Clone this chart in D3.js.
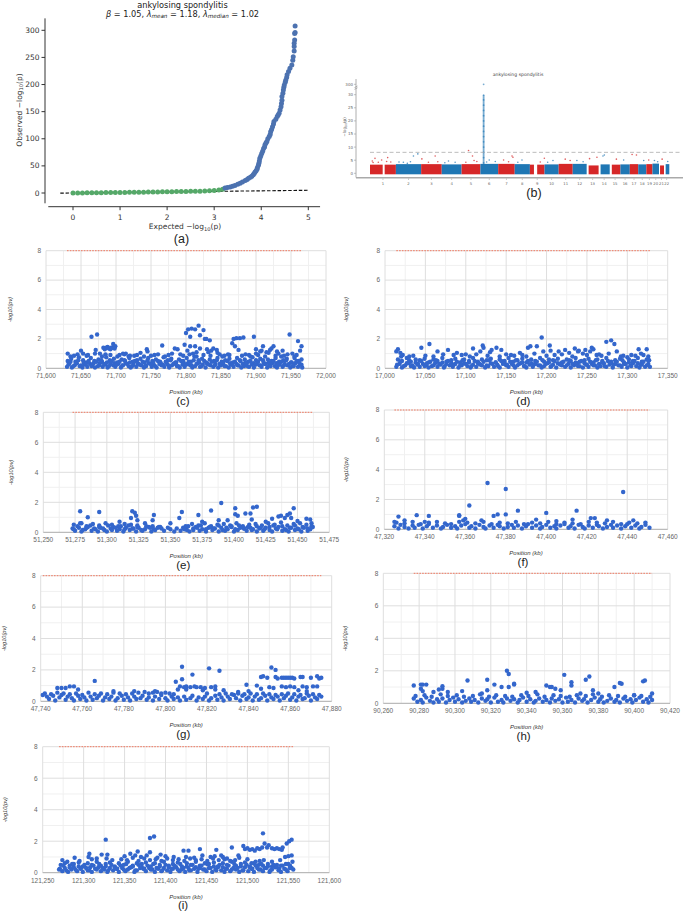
<!DOCTYPE html>
<html><head><meta charset="utf-8">
<script src="https://cdn.jsdelivr.net/npm/d3@7"></script>
<style>body{margin:0;background:#fff}svg{display:block}</style>
</head><body>
<svg id="fig" width="685" height="913"></svg>
<script>
// ================= DATA =================
// (a) QQ plot
const qqXTicks=[0,1,2,3,4,5];
const qqYTicks=[0,50,100,150,200,250,300];
const qqLineExtent=[-0.27,5];
const qqGreen=[[0,0],[0.1,0.1],[0.2,0.2],[0.3,0.3],[0.4,0.4],[0.5,0.5],[0.6,0.6],[0.7,0.7],[0.8,0.8],[0.9,0.9],[1,1],[1.1,1.1],[1.2,1.3],[1.3,1.4],[1.4,1.5],[1.5,1.6],[1.6,1.7],[1.7,1.9],[1.8,2],[1.9,2.1],[2,2.3],[2.1,2.4],[2.2,2.6],[2.3,2.7],[2.4,2.9],[2.5,3],[2.6,3.2],[2.7,3.4],[2.8,3.7],[2.9,4],[3,4.5],[3.1,5.5],[3.18,7]];
const qqBlue=[[3.23,9],[3.28,10],[3.34,11],[3.39,12.5],[3.44,14],[3.5,16],[3.55,18],[3.6,20.5],[3.66,23],[3.7,25],[3.73,27],[3.77,29],[3.8,31],[3.83,33.5],[3.85,36],[3.87,38.5],[3.89,41],[3.91,44],[3.92,47],[3.94,51],[3.95,55],[3.96,59],[3.97,64],[3.99,68],[4.01,73],[4.03,77],[4.05,82],[4.07,85],[4.08,89],[4.1,92],[4.12,95],[4.14,100],[4.17,104],[4.19,108],[4.2,113],[4.22,117],[4.24,122],[4.26,127],[4.27,132],[4.31,136],[4.34,141],[4.36,144],[4.38,147],[4.4,153],[4.42,159],[4.43,165],[4.44,171],[4.44,178],[4.46,184],[4.47,190],[4.48,195],[4.49,199],[4.51,204],[4.52,208],[4.54,213],[4.55,218],[4.58,224],[4.61,230],[4.65,236],[4.67,245],[4.68,251],[4.7,262],[4.7,270],[4.7,276],[4.71,282],[4.71,294],[4.72,296],[4.72,308]];

// (b) Manhattan plot
const chrNames=["1","2","3","4","5","6","7","8","9","10","11","12","13","14","15","16","17","18","19","20","21","22"];
const chrLenMb=[249,243,198,191,181,171,159,146,141,136,135,134,115,107,103,90,81,78,59,63,48,51];
const chrGapsMb=[[1,122,141],[9,39,70],[13,0,19],[14,0,19],[15,0,20],[21,0,10],[22,0,16]];
const chrBandTop=[3.3,3.5,3.5,3.4,3.5,3.6,3.6,3.5,3.3,3.4,3.6,3.6,3.0,3.4,3.3,3.4,3.5,3.4,3.5,3.7,3.0,3.5];
const manOutliers=[[1,22,4.7],[1,48,5.7],[1,80,4.2],[1,112,5.1],[1,170,6.0],[1,160,4.5],[1,30,4.1],[1,200,4.3],[2,72,4.2],[2,169,6.6],[2,211,7.4],[2,110,3.8],[2,30,4.3],[2,140,4.4],[3,7,5.5],[3,135,6.6],[3,70,4.2],[3,160,4.4],[4,65,4.7],[4,129,4.2],[4,30,4.0],[5,67,8.7],[5,105,6.6],[5,41,4.2],[5,147,4.5],[5,120,4.9],[6,85,5.1],[6,143,4.5],[6,60,4.3],[7,52,5.1],[7,133,6.6],[7,142,6.1],[7,100,4.4],[8,70,5.1],[8,30,4.2],[9,139,5.75],[9,100,4.3],[10,81,4.9],[10,30,4.2],[11,63,5.4],[11,110,4.9],[12,40,4.9],[12,100,4.4],[13,28,5.6],[13,99,6.1],[14,42,6.6],[14,55,7.0],[15,64,5.4],[16,31,5.1],[17,22,7.2],[17,64,7.0],[18,53,4.9],[19,23,5.1],[20,19,4.9],[20,50,4.4],[21,30,5.4],[22,36,4.5]];
const hlaChr=6, hlaPosMb=31;
const hlaVals=[4,6,8,10,12,14,16,18,20,22,24,26,28,29.8,300];
const manYTicks=[0,5,10,15,20,25,30,300];
const manThreshold=8;

// (c)-(i) regional plots: [offset kb from start, -log10(pv)]
const gYTicks=[0,2,4,6,8];
const gThreshold=8;

const cStartKb=71600;
const cTicks=[71600,71650,71700,71750,71800,71850,71900,71950,72000];
const cPts=[[30,.1],[33,.3],[37,.05],[41,.2],[44,.35],[48,.15],[52,.05],[55,.25],[59,.1],[63,.3],[66,.2],[70,.05],[74,.15],[77,.35],[81,.1],[85,.25],[88,.05],[92,.3],[96,.2],[99,.1],[103,.3],[107,.05],[110,.2],[114,.35],[118,.15],[121,.05],[125,.25],[129,.1],[132,.3],[136,.2],[140,.05],[143,.15],[147,.35],[151,.1],[154,.25],[158,.05],[162,.3],[165,.2],[169,.1],[173,.3],[176,.05],[180,.2],[184,.35],[187,.15],[191,.05],[195,.25],[198,.1],[202,.3],[206,.2],[209,.05],[213,.15],[217,.35],[220,.1],[224,.25],[228,.05],[231,.3],[235,.2],[239,.1],[242,.3],[246,.05],[250,.2],[253,.35],[257,.15],[261,.05],[264,.25],[268,.1],[272,.3],[275,.2],[279,.05],[283,.15],[286,.35],[290,.1],[294,.25],[297,.05],[301,.3],[305,.2],[308,.1],[312,.3],[316,.05],[319,.2],[323,.35],[327,.15],[330,.05],[334,.25],[338,.1],[341,.3],[345,.2],[349,.05],[352,.15],[356,.35],[360,.1],[363,.25],[366,.05],
[31,.5],[36,.65],[42,.45],[47,.75],[53,.55],[58,.4],[64,.7],[69,.5],[75,.6],[80,.45],[86,.75],[91,.55],[97,.65],[102,.4],[108,.6],[113,.5],[119,.7],[124,.45],[130,.55],[135,.65],[141,.4],[146,.7],[152,.5],[157,.6],[163,.45],[168,.75],[174,.55],[179,.65],[185,.4],[190,.6],[196,.5],[201,.7],[207,.45],[212,.8],[218,.55],[223,.65],[229,.4],[234,.6],[240,.5],[245,.7],[251,.45],[256,.55],[262,.65],[267,.4],[273,.7],[278,.5],[284,.6],[289,.45],[295,.75],[300,.55],[306,.65],[311,.4],[317,.6],[322,.5],[328,.7],[333,.45],[339,.55],[344,.65],[350,.4],[355,.7],[361,.5],[365,.6],
[32,.25],[35,.45],[39,.15],[43,.35],[46,.55],[50,.2],[54,.4],[57,.3],[61,.5],[65,.15],[68,.35],[72,.45],[76,.2],[79,.55],[83,.3],[87,.4],[90,.15],[94,.5],[98,.35],[101,.25],[105,.45],[109,.2],[112,.55],[116,.3],[120,.4],[123,.15],[127,.5],[131,.35],[134,.25],[138,.45],[142,.2],[145,.55],[149,.3],[153,.4],[156,.15],[160,.5],[164,.35],[167,.25],[171,.45],[175,.2],[178,.55],[182,.3],[186,.4],[189,.15],[193,.5],[197,.35],[200,.25],[204,.45],[208,.2],[211,.55],[215,.3],[219,.4],[222,.15],[226,.5],[230,.35],[233,.25],[237,.45],[241,.2],[244,.55],[248,.3],[252,.4],[255,.15],[259,.5],[263,.35],[266,.25],[270,.45],[274,.2],[277,.55],[281,.3],[285,.4],[288,.15],[292,.5],[296,.35],[299,.25],[303,.45],[307,.2],[310,.55],[314,.3],[318,.4],[321,.15],[325,.5],[329,.35],[332,.25],[336,.45],[340,.2],[343,.55],[347,.3],[351,.4],[354,.15],[358,.5],[362,.35],[365,.25],
[35,.8],[45,.95],[58,.85],[70,1.0],[80,.8],[92,.9],[102,.8],[112,.95],[118,.8],[126,.85],[135,1.05],[140,.8],[155,.9],[170,.8],[180,1.0],[196,.85],[205,.95],[215,.8],[235,.85],[245,1.05],[252,.8],[260,.95],[280,.85],[292,.8],[303,.9],[313,.8],[318,1.05],[328,.85],[336,.8],[345,.95],[355,.8],[84,1.3],[88,1.45],[92,1.3],[95,1.4],[198,1.6],[230,1.3],[236,1.2],[300,1.3],[308,1.2],[330,1.15],[338,1.2],
[31,1.0],[50,1.2],[53,1.0],[65,2.15],[73,2.3],[71,1.25],[82,1.4],[86,1.4],[90,1.35],[93,1.4],[96,1.65],[99,1.5],[98,1.35],[85,.95],[105,.9],[114,1.0],[120,.85],[130,.9],[144,1.3],[145,1.15],[150,.85],[166,1.55],[175,.9],[184,1.35],[188,1.3],[192,.95],[200,2.4],[203,2.65],[206,2.15],[208,2.7],[213,2.65],[218,2.9],[220,2.25],[225,2.6],[227,2.0],[229,2.0],[234,1.9],[213,1.5],[206,1.5],[220,1.35],[239,1.35],[244,1.25],[210,1.0],[225,.9],[202,1.2],[215,1.1],[232,1.1],[248,.95],[255,.85],[262,.9],[268,2.0],[272,2.05],[277,2.05],[282,2.1],[270,1.5],[275,1.25],[266,1.7],[285,.95],[297,2.15],[306,1.15],[310,1.5],[315,1.1],[320,1.25],[325,1.5],[322,1.35],[332,1.0],[340,.85],[348,2.3],[352,1.0],[358,.9],[360,1.85],[365,1.5],[363,1.2],[290,.9],[300,1.0],[160,.95],[110,1.0],[60,.9],[40,.85],[77,1.0]];

const dStartKb=17000;
const dTicks=[17000,17050,17100,17150,17200,17250,17300,17350];
const dPts=[[14,.1],[18,.3],[21,.05],[25,.2],[29,.35],[32,.15],[36,.05],[40,.25],[43,.1],[47,.3],[51,.2],[54,.05],[58,.15],[62,.35],[65,.1],[69,.25],[73,.05],[76,.3],[80,.2],[84,.1],[87,.3],[91,.05],[95,.2],[98,.35],[102,.15],[106,.05],[109,.25],[113,.1],[117,.3],[120,.2],[124,.05],[128,.15],[131,.35],[135,.1],[139,.25],[142,.05],[146,.3],[150,.2],[153,.1],[157,.3],[161,.05],[164,.2],[168,.35],[172,.15],[175,.05],[179,.25],[183,.1],[186,.3],[190,.2],[194,.05],[197,.15],[201,.35],[205,.1],[208,.25],[212,.05],[216,.3],[219,.2],[223,.1],[227,.3],[230,.05],[234,.2],[238,.35],[241,.15],[245,.05],[249,.25],[252,.1],[256,.3],[260,.2],[263,.05],[267,.15],[271,.35],[274,.1],[278,.25],[282,.05],[285,.3],[289,.2],[293,.1],[296,.3],[300,.05],[304,.2],[307,.35],[311,.15],[315,.05],[318,.25],[322,.1],[326,.3],[328,.1],
[16,.6],[21,.5],[27,.7],[32,.45],[38,.6],[43,.55],[49,.65],[54,.4],[60,.6],[65,.5],[71,.7],[76,.45],[82,.55],[87,.65],[93,.4],[98,.6],[104,.5],[109,.7],[115,.45],[120,.6],[126,.55],[131,.65],[137,.4],[142,.6],[148,.5],[153,.7],[159,.45],[164,.55],[170,.65],[175,.4],[181,.6],[186,.5],[192,.7],[197,.45],[203,.6],[208,.55],[214,.65],[219,.4],[225,.6],[230,.5],[236,.7],[241,.45],[247,.55],[252,.65],[258,.4],[263,.6],[269,.5],[274,.7],[280,.45],[285,.55],[291,.65],[296,.4],[302,.6],[307,.5],[313,.7],[318,.45],[324,.6],
[15,.25],[19,.45],[23,.15],[27,.35],[30,.55],[34,.2],[38,.4],[41,.3],[45,.5],[49,.15],[52,.35],[56,.45],[60,.2],[63,.55],[67,.3],[71,.4],[74,.15],[78,.5],[82,.35],[85,.25],[89,.45],[93,.2],[96,.55],[100,.3],[104,.4],[107,.15],[111,.5],[115,.35],[118,.25],[122,.45],[126,.2],[129,.55],[133,.3],[137,.4],[140,.15],[144,.5],[148,.35],[151,.25],[155,.45],[159,.2],[162,.55],[166,.3],[170,.4],[173,.15],[177,.5],[181,.35],[184,.25],[188,.45],[192,.2],[195,.55],[199,.3],[203,.4],[206,.15],[210,.5],[214,.35],[217,.25],[221,.45],[225,.2],[228,.55],[232,.3],[236,.4],[239,.15],[243,.5],[247,.35],[250,.25],[254,.45],[258,.2],[261,.55],[265,.3],[269,.4],[272,.15],[276,.5],[280,.35],[283,.25],[287,.45],[291,.2],[294,.55],[298,.3],[302,.4],[305,.15],[309,.5],[313,.35],[316,.25],[320,.45],[324,.2],[327,.55],
[20,.8],[35,.85],[60,.8],[85,.9],[105,.8],[113,.95],[127,.85],[142,.8],[156,.9],[175,.8],[185,1.0],[200,.85],[219,.95],[232,.8],[250,.9],[268,.85],[277,1.0],[292,.8],[300,.75],[310,.85],[317,1.0],[326,.8],[130,1.1],[205,1.2],[240,1.2],[258,1.3],
[14,1.15],[16,1.3],[19,1.05],[22,.9],[30,.8],[45,1.4],[55,1.65],[65,1.15],[50,.85],[78,1.25],[89,1.05],[95,.9],[109,1.35],[121,1.55],[122,1.4],[118,1.15],[132,1.25],[138,1.4],[144,1.25],[150,.95],[160,.85],[167,1.05],[180,1.5],[177,1.4],[188,1.5],[194,2.1],[196,1.15],[204,1.55],[210,.9],[215,1.15],[223,1.25],[235,1.35],[239,1.15],[248,1.25],[256,1.4],[254,1.15],[245,1.0],[262,.9],[274,1.8],[280,1.9],[284,1.65],[287,1.15],[295,.85],[305,.9],[314,1.3],[324,1.3],[320,.9],[326,.55],[72,.95],[100,.95],[170,.9],[228,1.05],[265,.95]];

const eStartKb=51250;
const eTicks=[51250,51275,51300,51325,51350,51375,51400,51425,51450,51475];
const ePts=[[23,.25],[25,.1],[28,.3],[30,.05],[33,.2],[35,.35],[38,.1],[40,.25],[43,.05],[45,.3],[48,.15],[50,.05],[53,.25],[55,.35],[58,.1],[60,.2],[63,.05],[65,.3],[68,.15],[70,.25],[73,.05],[75,.3],[78,.1],[80,.2],[83,.35],[85,.05],[88,.15],[90,.3],[93,.25],[95,.1],[98,.3],[100,.2],[103,.05],[105,.25],[108,.1],[110,.3],[113,.15],[115,.05],[118,.25],[120,.35],[123,.1],[125,.2],[128,.05],[130,.3],[133,.15],[135,.25],[138,.05],[140,.3],[143,.1],[145,.2],[148,.35],[150,.05],[153,.15],[155,.3],[158,.25],[160,.1],[163,.3],[165,.2],[168,.05],[170,.25],[173,.1],[175,.3],[178,.15],[180,.05],[183,.25],[185,.35],[188,.1],[190,.2],[193,.05],[195,.3],[198,.15],[200,.25],[203,.05],[205,.3],[208,.1],[210,.2],[212,.35],
[24,.5],[29,.6],[34,.4],[39,.55],[44,.45],[49,.6],[54,.5],[59,.4],[64,.55],[69,.5],[74,.45],[80,.6],[86,.4],[92,.35],[112,.4],[117,.55],[122,.45],[127,.6],[132,.4],[137,.5],[142,.55],[147,.45],[152,.6],[157,.4],[162,.5],[167,.55],[172,.45],[177,.6],[182,.5],[187,.65],[192,.45],[197,.55],[202,.6],[207,.5],[211,.6],
[24,.2],[27,.4],[31,.15],[34,.3],[37,.45],[41,.2],[44,.35],[47,.25],[51,.45],[54,.15],[57,.3],[61,.4],[64,.2],[67,.45],[71,.25],[74,.35],[77,.15],[81,.4],[84,.3],[87,.2],[91,.35],[111,.2],[114,.4],[118,.15],[121,.3],[124,.45],[128,.2],[131,.35],[134,.25],[138,.45],[141,.15],[144,.3],[148,.4],[151,.2],[154,.45],[158,.25],[161,.35],[164,.15],[168,.4],[171,.3],[174,.2],[178,.35],[181,.45],[184,.2],[188,.4],[191,.15],[194,.3],[198,.45],[201,.2],[204,.35],[208,.25],[211,.4],
[29,1.4],[35,1.0],[44,1.35],[30,.6],[70,1.4],[72,1.3],[73,1.1],[69,.95],[74,.8],[87,1.15],[86,.8],[109,1.35],[107,.95],[122,1.15],[132,1.45],[140,1.95],[138,.8],[151,1.6],[151,1.2],[153,1.1],[159,1.25],[163,1.25],[165,1.65],[168,1.7],[164,.85],[185,1.05],[187,1.1],[192,1.15],[194,1.25],[197,1.6],[195,.95],[210,.85],[207,.9],[145,.8],[175,.7],[60,.7],[100,.6],[125,.7],[180,.9],[200,.75],[190,.95]];

const fStartKb=47320;
const fTicks=[47320,47340,47360,47380,47400,47420,47440,47460];
const fPts=[[5,.2],[7,.05],[8,.3],[10,.15],[12,.05],[14,.25],[15,.1],[17,.3],[19,.05],[21,.2],[22,.35],[24,.1],[26,.25],[28,.05],[29,.15],[31,.3],[33,.1],[35,.2],[36,.05],[38,.25],[40,.35],[42,.1],[43,.2],[45,.05],[47,.3],[49,.15],[50,.05],[52,.25],[54,.1],[56,.3],[57,.2],[59,.05],[61,.15],[63,.3],[64,.1],[66,.25],[68,.05],[70,.2],[71,.35],[73,.1],[75,.25],[77,.05],[78,.15],[80,.3],[82,.1],[84,.2],[85,.05],[87,.25],[89,.35],[91,.1],[92,.2],[94,.05],[96,.3],[98,.15],[99,.05],[101,.25],[103,.1],[105,.3],[106,.2],[108,.05],[110,.15],[112,.3],[113,.1],[115,.25],[117,.05],[119,.2],[120,.35],[122,.1],[124,.25],[126,.05],[127,.15],[129,.3],[131,.1],
[6,.45],[10,.4],[14,.5],[18,.35],[22,.45],[26,.5],[30,.4],[33,.35],[37,.5],[41,.45],[45,.4],[49,.5],[53,.35],[57,.45],[61,.4],[65,.5],[69,.35],[73,.45],[77,.4],[81,.5],[85,.35],[89,.45],[93,.4],[97,.35],[101,.5],[105,.45],[109,.4],[113,.5],[117,.35],[121,.45],[125,.4],[129,.45],
[5,.5],[7,.85],[10,.6],[16,.95],[22,.9],[37,.95],[37,.9],[42,1.6],[39,.6],[40,.7],[51,3.1],[54,.9],[56,1.0],[60,1.0],[60,2.7],[66,1.25],[75,.65],[80,1.1],[93,.65],[95,1.25],[102,.75],[104,.75],[110,.6],[118,2.5],[123,.6],[20,.5],[48,.6],[85,.55]];

const gStartKb=47740;
const gTicks=[47740,47760,47780,47800,47820,47840,47860,47880];
const gPts=[[1,.4],[3,.3],[4,.15],[6,.35],[7,.05],[9,.25],[10,.4],[12,.1],[13,.3],[15,.2],[16,.05],[18,.35],[19,.15],[21,.25],[22,.05],[24,.3],[25,.1],[27,.2],[28,.35],[30,.05],[31,.25],[33,.15],[34,.3],[36,.05],[37,.2],[39,.35],[40,.1],[42,.25],[43,.05],[45,.3],[46,.15],[48,.2],[49,.35],[51,.1],[52,.25],[54,.05],[55,.3],[57,.15],[58,.4],[60,.2],[61,.05],[63,.3],[64,.15],[66,.25],[67,.05],[69,.3],[70,.1],[72,.2],[73,.35],[75,.05],[76,.25],[78,.15],[79,.3],[81,.05],[82,.2],[84,.35],[85,.1],[87,.25],[88,.05],[90,.3],[91,.15],[93,.4],[94,.2],[96,.05],[97,.35],[99,.15],[100,.25],[102,.05],[103,.3],[105,.1],[106,.2],[108,.35],[109,.05],[111,.25],[112,.15],[114,.3],[115,.05],[117,.2],[118,.35],[120,.1],[121,.25],[123,.05],[124,.3],[126,.15],[127,.2],[129,.35],[130,.05],[132,.25],[133,.15],[135,.3],
[2,.5],[5,.45],[8,.55],[11,.5],[14,.45],[17,.5],[20,.4],[23,.55],[26,.45],[29,.5],[32,.45],[35,.55],[38,.5],[41,.45],[44,.5],[47,.55],[50,.6],[52,.5],[54,.55],[56,.6],[58,.5],[60,.55],[62,.5],[64,.45],[80,.5],[86,.45],[89,.5],[92,.45],[95,.5],[98,.45],[101,.5],[104,.45],[107,.5],[110,.45],[113,.4],[116,.45],[119,.5],[122,.45],[125,.4],[128,.5],[131,.45],[134,.4],
[8,.85],[10,.85],[12,.85],[14,.95],[16,.95],[18,.75],[26,1.3],[35,.65],[45,.65],[55,.65],[66,.75],[70,.75],[78,.7],[84,.75],[88,.7],[65,1.25],[68,2.2],[68,1.4],[67,.95],[69,.9],[70,.95],[72,.9],[73,1.7],[74,.95],[75,.9],[77,.9],[79,.85],[81,2.1],[82,.9],[84,.95],[86,1.95],[99,1.05],[104,1.0],[106,1.55],[107,1.6],[109,1.5],[111,2.15],[113,2.0],[113,1.55],[114,1.45],[116,1.5],[117,1.5],[118,1.5],[119,1.5],[120,1.5],[121,1.5],[122,1.45],[116,.95],[118,.9],[120,.95],[122,.9],[125,1.55],[126,1.55],[126,.95],[128,.9],[130,1.5],[133,1.6],[134,1.45],[135,1.5],[131,.95],[133,.95],[106,.8],[110,.9],[112,.85],[124,.7],[128,.65],[95,.6],[100,.65]];

const hStartKb=90260;
const hTicks=[90260,90280,90300,90320,90340,90360,90380,90400,90420];
const hPts=[[17,.3],[19,.1],[21,.2],[22,.05],[24,.35],[26,.15],[28,.05],[30,.25],[31,.1],[33,.3],[35,.05],[37,.2],[39,.35],[40,.1],[42,.25],[44,.05],[46,.15],[48,.3],[49,.1],[51,.2],[53,.05],[55,.3],[57,.15],[58,.25],[60,.05],[62,.35],[64,.1],[66,.2],[67,.05],[69,.3],[71,.15],[73,.25],[75,.05],[76,.2],[78,.35],[80,.1],[82,.25],[84,.05],[85,.15],[87,.3],[89,.1],[91,.2],[93,.05],[94,.3],[96,.15],[98,.25],[100,.05],[102,.35],[103,.1],[105,.2],[107,.05],[109,.3],[111,.15],[112,.25],[114,.05],[116,.2],[118,.35],[120,.1],[121,.25],[123,.05],[125,.15],[127,.3],[129,.1],[130,.2],[132,.05],[134,.3],[136,.15],[138,.25],[139,.05],[141,.2],[143,.35],[145,.1],[147,.25],[148,.05],[150,.2],
[18,.45],[23,.5],[27,.4],[32,.55],[36,.45],[41,.5],[45,.4],[50,.45],[54,.55],[59,.4],[63,.5],[68,.45],[72,.4],[77,.5],[81,.45],[86,.55],[90,.4],[95,.5],[99,.45],[104,.4],[108,.5],[113,.45],[117,.55],[122,.4],[126,.5],[131,.45],[135,.4],[140,.5],[144,.45],[149,.4],
[17,1.1],[21,.9],[21,1.15],[22,1.15],[24,1.15],[22,.75],[28,.7],[31,.85],[33,.9],[33,1.05],[36,.7],[44,.75],[47,1.4],[58,1.45],[58,.8],[62,1.15],[66,1.0],[69,2.0],[70,1.8],[70,1.0],[73,1.15],[73,1.2],[91,1.1],[93,1.0],[94,1.0],[96,.9],[99,.8],[101,1.75],[105,1.3],[105,1.1],[113,1.45],[115,1.65],[117,.8],[129,1.0],[132,1.25],[133,1.2],[145,1.35],[146,1.4],[140,.5],[150,.6],[55,.6],[80,.65],[110,.6],[120,.6],[85,.7]];

const iStartKb=121250;
const iTicks=[121250,121300,121350,121400,121450,121500,121550,121600];
const iPts=[[20,.2],[24,.1],[27,.3],[31,.05],[35,.2],[38,.35],[42,.1],[46,.25],[49,.05],[53,.3],[57,.15],[60,.05],[64,.25],[68,.35],[71,.1],[75,.2],[79,.05],[82,.3],[86,.15],[90,.25],[93,.05],[97,.3],[101,.1],[104,.2],[108,.35],[112,.05],[115,.15],[119,.3],[123,.25],[126,.1],[130,.3],[134,.2],[137,.05],[141,.25],[145,.1],[148,.3],[152,.15],[156,.05],[159,.25],[163,.35],[167,.1],[170,.2],[174,.05],[178,.3],[181,.15],[185,.25],[189,.05],[192,.3],[196,.2],[200,.1],[203,.3],[207,.05],[211,.2],[214,.35],[218,.15],[222,.05],[225,.25],[229,.1],[233,.3],[236,.2],[240,.05],[244,.15],[247,.35],[251,.1],[255,.25],[258,.05],[262,.3],[266,.2],[269,.1],[273,.3],[277,.05],[280,.2],[284,.35],[288,.15],[291,.05],[295,.25],[299,.1],[302,.3],[306,.2],
[22,.5],[27,.6],[33,.45],[38,.55],[44,.65],[49,.4],[55,.6],[60,.5],[66,.7],[71,.45],[77,.55],[82,.65],[88,.4],[93,.6],[99,.5],[104,.7],[110,.45],[115,.6],[121,.55],[126,.65],[132,.4],[137,.6],[143,.5],[148,.7],[154,.45],[159,.55],[165,.65],[170,.4],[176,.6],[181,.5],[187,.7],[192,.45],[198,.6],[203,.55],[209,.65],[214,.4],[220,.6],[225,.5],[231,.7],[236,.45],[242,.55],[247,.65],[253,.4],[258,.6],[264,.5],[269,.45],[275,.55],[280,.4],[286,.5],[291,.45],[297,.55],[302,.4],
[21,.25],[25,.45],[29,.15],[33,.35],[36,.55],[40,.2],[44,.4],[47,.3],[51,.5],[55,.15],[58,.35],[62,.45],[66,.2],[69,.55],[73,.3],[77,.4],[80,.15],[84,.5],[88,.35],[91,.25],[95,.45],[99,.2],[102,.55],[106,.3],[110,.4],[113,.15],[117,.5],[121,.35],[124,.25],[128,.45],[132,.2],[135,.55],[139,.3],[143,.4],[146,.15],[150,.5],[154,.35],[157,.25],[161,.45],[165,.2],[168,.55],[172,.3],[176,.4],[179,.15],[183,.5],[187,.35],[190,.25],[194,.45],[198,.2],[201,.55],[205,.3],[209,.4],[212,.15],[216,.5],[220,.35],[223,.25],[227,.45],[231,.2],[234,.55],[238,.3],[242,.4],[245,.15],[249,.5],[253,.35],[256,.25],[260,.45],[264,.2],[267,.55],[271,.3],[275,.4],[278,.15],[282,.5],[286,.35],[289,.25],[293,.45],[297,.2],[300,.55],[304,.3],
[96,.85],[103,.8],[110,.95],[117,.75],[124,.9],[131,.8],[138,.85],[145,.75],[152,.9],[159,.8],[166,.85],[173,.75],[180,.9],[187,.8],[194,.85],[201,.75],[208,.9],[215,.8],[222,.85],[229,.75],
[30,.7],[45,.75],[60,.85],[85,.8],[100,1.05],[120,1.0],[127,1.1],[140,.95],[150,1.05],[160,1.0],[175,1.0],[185,.95],[195,1.1],[210,1.05],[220,1.0],[235,.8],[250,.85],[265,.75],[280,.7],[290,.8],[305,.7],[66,.9],[113,1.1],
[24,.8],[39,.95],[57,1.2],[56,1.0],[72,1.15],[77,2.1],[79,1.15],[78,.9],[107,1.2],[116,1.35],[131,1.3],[131,2.2],[136,2.3],[144,1.15],[172,1.4],[178,1.4],[192,1.5],[212,1.45],[218,1.1],[231,1.6],[239,1.1],[245,1.7],[247,1.5],[250,1.55],[253,1.45],[256,1.5],[259,1.4],[262,1.55],[265,1.5],[268,1.6],[269,2.5],[271,1.85],[274,1.6],[276,1.75],[280,1.55],[283,1.5],[286,1.55],[289,1.5],[292,1.45],[293,1.6],[298,1.85],[301,2.0],[304,2.1],[296,1.0],[300,1.05],[304,1.1],[302,.45],[240,.95],[255,.6],[260,.7],[270,.8],[225,.9],[205,1.0]];

// ================= DRAW =================
const svg=d3.select("#fig");
const SANS="'Liberation Sans', Arial, sans-serif";
const DJV="'DejaVu Sans', sans-serif";

// ---------- (a) QQ ----------
(function(){
  const g=svg.append("g").attr("font-family",DJV);
  const x=d3.scaleLinear().domain([0,5]).range([73,308.3]);
  const y=d3.scaleLinear().domain([0,300]).range([193,30.3]);
  const axc="#333";
  g.append("line").attr("x1",45).attr("x2",45).attr("y1",y(322)).attr("y2",y(-19)).attr("stroke",axc).attr("stroke-width",1);
  g.append("line").attr("y1",206.7).attr("y2",206.7).attr("x1",x(-0.525)).attr("x2",x(5.25)).attr("stroke",axc).attr("stroke-width",1);
  g.selectAll(".yt").data(qqYTicks).join("line").attr("x1",41.5).attr("x2",45).attr("y1",d=>y(d)).attr("y2",d=>y(d)).attr("stroke",axc);
  g.selectAll(".yl").data(qqYTicks).join("text").attr("x",39.5).attr("y",d=>y(d)+2.6).attr("text-anchor","end").attr("font-size",7.5).attr("fill","#333").text(d=>d);
  g.selectAll(".xt").data(qqXTicks).join("line").attr("x1",d=>x(d)).attr("x2",d=>x(d)).attr("y1",206.7).attr("y2",210.2).attr("stroke",axc);
  g.selectAll(".xl").data(qqXTicks).join("text").attr("x",d=>x(d)).attr("y",219.5).attr("text-anchor","middle").attr("font-size",7.5).attr("fill","#333").text(d=>d);
  const xl=g.append("text").attr("x",185).attr("y",229).attr("text-anchor","middle").attr("font-size",7.5).attr("fill","#333");
  xl.append("tspan").text("Expected \u2212log");
  xl.append("tspan").attr("font-size",5.2).attr("dy",1.8).text("10");
  xl.append("tspan").attr("dy",-1.8).text("(p)");
  const yl=g.append("text").attr("transform","translate(21.5,110) rotate(-90)").attr("text-anchor","middle").attr("font-size",7.5).attr("fill","#333");
  yl.append("tspan").text("Observed \u2212log");
  yl.append("tspan").attr("font-size",5.2).attr("dy",1.8).text("10");
  yl.append("tspan").attr("dy",-1.8).text("(p)");
  g.append("text").attr("x",182.5).attr("y",7.5).attr("text-anchor","middle").attr("font-size",8.2).attr("fill","#222").text("ankylosing spondylitis");
  const t2=g.append("text").attr("x",182.5).attr("y",16.5).attr("text-anchor","middle").attr("font-size",8.2).attr("fill","#222");
  t2.append("tspan").attr("font-style","italic").text("\u03b2");
  t2.append("tspan").text(" = 1.05, ");
  t2.append("tspan").attr("font-style","italic").text("\u03bb");
  t2.append("tspan").attr("font-size",5.6).attr("dy",1.8).attr("font-style","italic").text("mean");
  t2.append("tspan").attr("dy",-1.8).text(" = 1.18, ");
  t2.append("tspan").attr("font-style","italic").text("\u03bb");
  t2.append("tspan").attr("font-size",5.6).attr("dy",1.8).attr("font-style","italic").text("median");
  t2.append("tspan").attr("dy",-1.8).text(" = 1.02");
  // expected line (behind the points)
  g.append("line").attr("x1",x(qqLineExtent[0])).attr("y1",y(qqLineExtent[0])).attr("x2",x(qqLineExtent[1])).attr("y2",y(qqLineExtent[1]))
    .attr("stroke","#111").attr("stroke-width",1.1).attr("stroke-dasharray","3.5,1.8");
  g.selectAll(".gp").data(qqGreen).join("circle").attr("cx",d=>x(d[0])).attr("cy",d=>y(d[1])).attr("r",2.5).attr("fill","#55a868");
  g.selectAll(".bp").data(qqBlue).join("circle").attr("cx",d=>x(d[0])).attr("cy",d=>y(d[1])).attr("r",2.5).attr("fill","#4c72b0");
  svg.append("text").attr("x",181.5).attr("y",242.5).attr("text-anchor","middle").attr("font-family",SANS).attr("font-size",12.5).attr("fill","#222").text("(a)");
})();

// ---------- (b) Manhattan ----------
(function(){
  const g=svg.append("g").attr("font-family",DJV);
  const total=d3.sum(chrLenMb);
  const offs=[];let acc=0;chrLenMb.forEach(l=>{offs.push(acc);acc+=l;});
  const x=d3.scaleLinear().domain([0,total]).range([370,669.3]);
  const y=d3.scaleLinear().domain([0,30,300]).range([173.3,94.7,84.3]);
  const red="#d62728",blue="#1f77b4";
  const col=i=>i%2===0?red:blue;
  const segs=[];
  chrLenMb.forEach((len,i)=>{
    const gaps=chrGapsMb.filter(d=>d[0]===i+1).sort((a,b)=>a[1]-b[1]);
    let s=0;
    gaps.forEach(gp=>{ if(gp[1]>s) segs.push({i,s,e:gp[1]}); s=gp[2]; });
    if(len>s) segs.push({i,s,e:len});
  });
  g.selectAll(".band").data(segs).join("rect")
    .attr("x",d=>x(offs[d.i]+d.s)).attr("width",d=>x(offs[d.i]+d.e)-x(offs[d.i]+d.s))
    .attr("y",d=>y(chrBandTop[d.i])).attr("height",d=>y(0)-y(chrBandTop[d.i])+1)
    .attr("fill",d=>col(d.i));
  g.selectAll(".out").data(manOutliers).join("circle")
    .attr("cx",d=>x(offs[d[0]-1]+d[1])).attr("cy",d=>y(d[2])).attr("r",0.8)
    .attr("fill",d=>col(d[0]-1)).attr("opacity",0.75);
  g.append("rect").attr("x",x(offs[hlaChr-1]+hlaPosMb)-0.9).attr("width",1.8)
    .attr("y",y(29.8)).attr("height",y(3.5)-y(29.8)).attr("fill",blue).attr("opacity",0.6);
  g.selectAll(".hla").data(hlaVals).join("circle")
    .attr("cx",x(offs[hlaChr-1]+hlaPosMb)).attr("cy",d=>y(d)).attr("r",0.9).attr("fill",blue).attr("opacity",0.6);
  g.append("line").attr("x1",370).attr("x2",680).attr("y1",y(manThreshold)).attr("y2",y(manThreshold))
    .attr("stroke","#aaa").attr("stroke-width",0.8).attr("stroke-dasharray","4,2.5");
  g.append("line").attr("x1",356).attr("x2",356).attr("y1",79).attr("y2",177.5).attr("stroke","#999").attr("stroke-width",0.8);
  g.append("line").attr("x1",356).attr("x2",683).attr("y1",177.8).attr("y2",177.8).attr("stroke","#aaa").attr("stroke-width",1.4);
  [86.8,88.6].forEach(yy=>g.append("line").attr("x1",354.5).attr("x2",357.5).attr("y1",yy+0.8).attr("y2",yy-0.8).attr("stroke","#888").attr("stroke-width",0.6));
  g.selectAll(".myt").data(manYTicks).join("line").attr("x1",354).attr("x2",356).attr("y1",d=>y(d)).attr("y2",d=>y(d)).attr("stroke","#999").attr("stroke-width",0.6);
  g.selectAll(".myl").data(manYTicks).join("text").attr("x",353).attr("y",d=>y(d)+1.4).attr("text-anchor","end").attr("font-size",4).attr("fill","#666").text(d=>d);
  g.selectAll(".mxt").data(chrNames).join("line").attr("x1",(d,i)=>x(offs[i]+chrLenMb[i]/2)).attr("x2",(d,i)=>x(offs[i]+chrLenMb[i]/2))
    .attr("y1",178.5).attr("y2",180).attr("stroke","#999").attr("stroke-width",0.5);
  g.selectAll(".mxl").data(chrNames).join("text").attr("x",(d,i)=>x(offs[i]+chrLenMb[i]/2)).attr("y",185)
    .attr("text-anchor","middle").attr("font-size",3.8).attr("fill","#666").text(d=>d);
  const yl=g.append("text").attr("transform","translate(345.5,127) rotate(-90)").attr("text-anchor","middle").attr("font-size",4.2).attr("fill","#555");
  yl.append("tspan").text("\u2212log");
  yl.append("tspan").attr("font-size",3).attr("dy",1).text("10");
  yl.append("tspan").attr("dy",-1).text("(p)");
  g.append("text").attr("x",518).attr("y",75.5).attr("text-anchor","middle").attr("font-size",4.6).attr("fill","#444").text("ankylosing spondylitis");
  svg.append("text").attr("x",534).attr("y",197).attr("text-anchor","middle").attr("font-family",SANS).attr("font-size",12.5).attr("fill","#222").text("(b)");
})();

// ---------- (c)-(i) regional panels ----------
function regional(lay, startKb, ticks, pts, label){
  const g=svg.append("g").attr("font-family",SANS);
  const x=d3.scaleLinear().domain([ticks[0],ticks[ticks.length-1]]).range([lay.l,lay.r]);
  const y=d3.scaleLinear().domain([0,8]).range([lay.b,lay.t]);
  const xMinor=d3.pairs(ticks).map(([a,b])=>(a+b)/2);
  const yMinor=d3.pairs(gYTicks).map(([a,b])=>(a+b)/2);
  g.selectAll(".vm").data(xMinor).join("line").attr("x1",d=>x(d)).attr("x2",d=>x(d)).attr("y1",lay.t).attr("y2",lay.b).attr("stroke","#f0f0f0").attr("stroke-width",1);
  g.selectAll(".hm").data(yMinor).join("line").attr("y1",d=>y(d)).attr("y2",d=>y(d)).attr("x1",lay.l).attr("x2",lay.r).attr("stroke","#f0f0f0").attr("stroke-width",1);
  g.selectAll(".vM").data(ticks).join("line").attr("x1",d=>x(d)).attr("x2",d=>x(d)).attr("y1",lay.t).attr("y2",lay.b).attr("stroke","#dedede").attr("stroke-width",1);
  g.selectAll(".hM").data(gYTicks.slice(1)).join("line").attr("y1",d=>y(d)).attr("y2",d=>y(d)).attr("x1",lay.l).attr("x2",lay.r).attr("stroke","#dedede").attr("stroke-width",1);
  g.append("line").attr("x1",lay.l).attr("x2",lay.r).attr("y1",y(0)).attr("y2",y(0)).attr("stroke","#aaa").attr("stroke-width",1);
  const fmt=d3.format(",");
  g.selectAll(".xl").data(ticks).join("text").attr("x",d=>x(d)).attr("y",lay.b+10).attr("text-anchor","middle").attr("font-size",6.5).attr("fill","#666").text(d=>fmt(d));
  g.selectAll(".yl").data(gYTicks).join("text").attr("x",lay.l-5).attr("y",d=>y(d)+2.3).attr("text-anchor","end").attr("font-size",6.5).attr("fill","#666").text(d=>d);
  const ext=d3.extent(pts,d=>d[0]);
  g.append("line").attr("x1",x(startKb+ext[0])).attr("x2",x(startKb+ext[1])).attr("y1",y(gThreshold)).attr("y2",y(gThreshold))
    .attr("stroke","#f2785f").attr("stroke-width",1).attr("stroke-dasharray","1.6,1.2");
  g.selectAll(".pt").data(pts).join("circle").attr("cx",d=>x(startKb+d[0])).attr("cy",d=>y(d[1])).attr("r",2.2).attr("fill","#3366cc");
  g.append("text").attr("transform",`translate(${lay.yt},${(lay.t+lay.b)/2}) rotate(-90)`).attr("text-anchor","middle").attr("font-size",5.6).attr("font-style","italic").attr("fill","#333").text("-log10(pv)");
  const cx=(lay.l+lay.r)/2;
  g.append("text").attr("x",cx).attr("y",lay.b+26).attr("text-anchor","middle").attr("font-size",6).attr("font-style","italic").attr("fill","#333").text("Position (kb)");
  g.append("text").attr("x",cx-3).attr("y",lay.b+36.5).attr("text-anchor","middle").attr("font-size",11.5).attr("fill","#222").text(label);
}
regional({l:46,r:326,t:250.7,b:368.3,yt:12},cStartKb,cTicks,cPts,"(c)");
regional({l:385,r:667.7,t:250.7,b:368.3,yt:348.3},dStartKb,dTicks,dPts,"(d)");
regional({l:43.3,r:329.3,t:412.3,b:532.3,yt:13.3},eStartKb,eTicks,ePts,"(e)");
regional({l:384.3,r:667.7,t:410,b:529.3,yt:348.3},fStartKb,fTicks,fPts,"(f)");
regional({l:40.7,r:331.7,t:575.7,b:701.3,yt:5.5},gStartKb,gTicks,gPts,"(g)");
regional({l:383.3,r:670,t:573.3,b:703.3,yt:347},hStartKb,hTicks,hPts,"(h)");
regional({l:42.7,r:329.3,t:746.7,b:872.7,yt:6.5},iStartKb,iTicks,iPts,"(i)");
</script>
</body></html>
